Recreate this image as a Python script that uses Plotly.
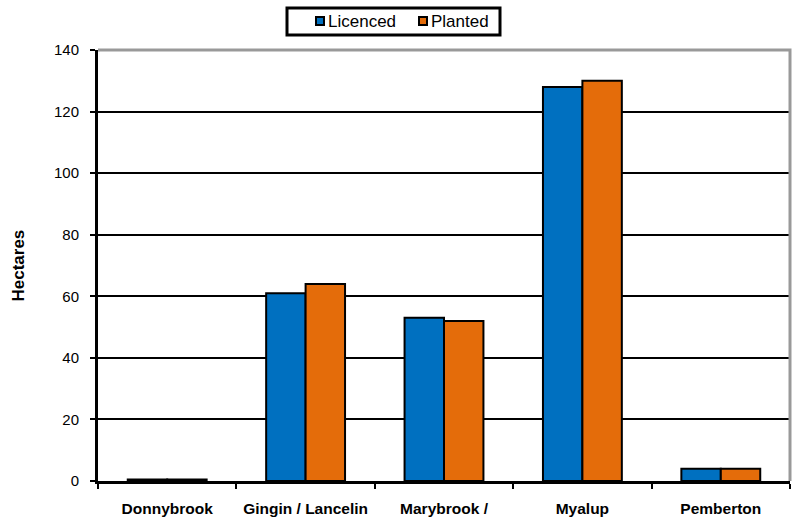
import plotly.graph_objects as go

# Areas by region (hectares)
regions = ["Donnybrook", "Gingin / Lancelin", "Marybrook /", "Myalup", "Pemberton"]
licenced = [0.5, 61, 53, 128, 4]
planted = [0.5, 64, 52, 130, 4]

series = [("Licenced", licenced, "#0070C0"), ("Planted", planted, "#E46C0A")]
FONT = "Liberation Sans, Arial, sans-serif"

fig = go.Figure()
for name, vals, col in series:
    fig.add_trace(go.Bar(
        name=name, x=regions, y=vals, showlegend=False,
        marker=dict(color=col, line=dict(color="black", width=2)),
    ))

W, H = 799, 522
L, R, T, B = 98, 9, 50, 41
fig.update_layout(
    width=W, height=H,
    margin=dict(l=L, r=R, t=T, b=B, autoexpand=False),
    paper_bgcolor="white", plot_bgcolor="white",
    barmode="group", bargap=0.43, bargroupgap=0,
    font=dict(family=FONT, color="black", size=13),
    xaxis=dict(
        showline=True, linecolor="black", linewidth=3,
        ticks="outside", tickson="boundaries", ticklen=5, tickwidth=2, tickcolor="black",
        tickfont=dict(size=15.5), ticklabelstandoff=11, tickangle=0,
        tickvals=regions, ticktext=[f"<b>{r}</b>" for r in regions],
        showgrid=False,
    ),
    yaxis=dict(
        range=[0, 140], dtick=20,
        showline=True, linecolor="black", linewidth=3,
        ticks="outside", ticklen=5, tickwidth=2, tickcolor="black",
        tickfont=dict(size=15), ticklabelstandoff=8,
        showgrid=True, gridcolor="black", gridwidth=2,
        zeroline=False,
    ),
)

# y axis title
fig.add_annotation(text="<b>Hectares</b>", xref="paper", yref="paper",
                   x=(18 - L) / (W - L - R), y=0.5, xanchor="center", yanchor="middle",
                   textangle=-90, showarrow=False, font=dict(size=17))

# light grey frame along the top and right of the plotting area
fig.add_shape(type="path", xref="paper", yref="paper",
              path="M 0 1 L 1 1 L 1 0", line=dict(color="#999999", width=3), layer="above")

# legend box drawn in pixel-based paper coords
pw, ph = W - L - R, H - T - B
def px(x):
    return (x - L) / pw
def py(y):
    return (H - B - y) / ph

fig.add_shape(type="rect", xref="paper", yref="paper",
              x0=px(287), x1=px(500), y0=py(8), y1=py(35),
              line=dict(color="black", width=3), fillcolor="white", layer="above")
legend_items = [(316, 326), (419, 429)]
for (sx, tx), (name, _, col) in zip(legend_items, series):
    fig.add_shape(type="rect", xref="paper", yref="paper",
                  x0=px(sx), x1=px(sx + 8), y0=py(17), y1=py(25),
                  line=dict(color="black", width=2), fillcolor=col, layer="above")
    fig.add_annotation(text=name, xref="paper", yref="paper",
                       x=px(tx), y=py(21.5), xanchor="left", yanchor="middle",
                       showarrow=False, font=dict(size=17))

fig.write_html("out.html")
